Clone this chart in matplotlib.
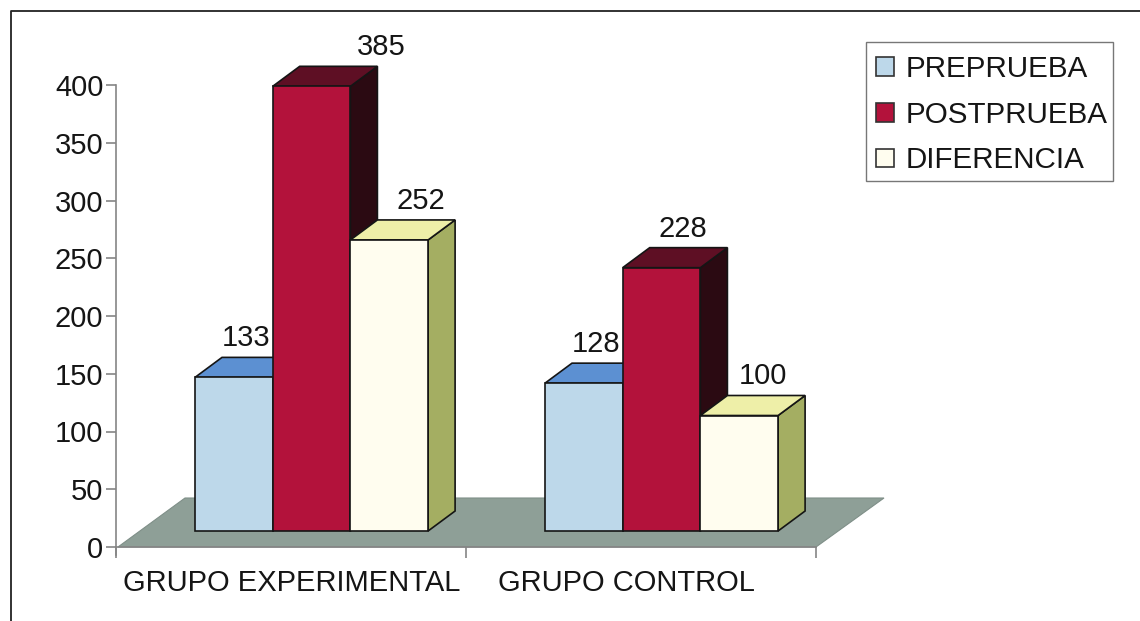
import matplotlib
matplotlib.use("Agg")
import matplotlib.pyplot as plt
from matplotlib.lines import Line2D
from matplotlib.patches import Patch, Polygon, Rectangle

plt.rcParams['font.family'] = ['Liberation Sans', 'DejaVu Sans']

# data
groups = ['GRUPO EXPERIMENTAL', 'GRUPO CONTROL']
series = ['PREPRUEBA', 'POSTPRUEBA', 'DIFERENCIA']
prep = [133, 128]
post = [385, 228]
dif = [252, 100]
y_ticks = [0, 50, 100, 150, 200, 250, 300, 350, 400]
values = {'PREPRUEBA': prep, 'POSTPRUEBA': post, 'DIFERENCIA': dif}

W, H = 1140, 621
front = {'PREPRUEBA': '#BDD8EA', 'POSTPRUEBA': '#B3123B', 'DIFERENCIA': '#FFFDEF'}
top = {'PREPRUEBA': '#5C90D2', 'POSTPRUEBA': '#5E0F24', 'DIFERENCIA': '#EEEFA8'}
side = {'PREPRUEBA': '#6F8FA8', 'POSTPRUEBA': '#2B0A12', 'DIFERENCIA': '#A4AE62'}
edge = '#151515'
axis_col = '#858585'
txt = '#151515'

fig = plt.figure(figsize=(W / 100, H / 100), dpi=100)
# only the left and top of the outer frame survive in the scan
fig.add_artist(Line2D([11 / W, 11 / W, 1], [0, 1 - 11 / H, 1 - 11 / H], transform=fig.transFigure,
                      color='#222222', lw=1.3))

# axes box: x 116..816 px, y 547..85 px
ax = fig.add_axes([116 / W, 1 - 547 / H, 700 / W, 462 / H])
ax.set_xlim(0, 2)
ax.set_ylim(0, 400)
ax.patch.set_visible(False)
px = 2 / 700      # one pixel in x units
py = 400 / 462    # one pixel in y units

# floor
ax.add_patch(Polygon([(2 * px, 0), (69 * px, 49 * py), (768 * px, 49 * py), (2, 0)],
                     closed=True, fc='#8E9F97', ec='#7F8F88', lw=0.8, clip_on=False, zorder=1))

base = 16 * py
dx, dy = 27 * px, 20 * py
bar_w = 77.7 * px
start = 79 * px

zo = 2
for g in range(len(groups)):
    for s, name in enumerate(series):
        x0 = g + start + s * bar_w
        h = values[name][g]
        x1 = x0 + bar_w
        y1 = base + h
        ax.add_patch(Polygon([(x1, base), (x1 + dx, base + dy), (x1 + dx, y1 + dy), (x1, y1)],
                             closed=True, fc=side[name], ec=edge, lw=1.2, zorder=zo, clip_on=False))
        ax.add_patch(Polygon([(x0, y1), (x0 + dx, y1 + dy), (x1 + dx, y1 + dy), (x1, y1)],
                             closed=True, fc=top[name], ec=edge, lw=1.2, zorder=zo, clip_on=False))
        ax.bar(x0, h, bar_w, bottom=base, align='edge', color=front[name], edgecolor=edge,
               linewidth=1.2, zorder=zo + 0.5, clip_on=False)
        zo += 1

# value labels, nudged by hand like in the original
label_dx = {'PREPRUEBA': [12, 12], 'POSTPRUEBA': [70, 21], 'DIFERENCIA': [32, 24]}
for g in range(len(groups)):
    for s, name in enumerate(series):
        xc = g + start + (s + 0.5) * bar_w
        ax.annotate(str(values[name][g]), (xc, base + values[name][g]),
                    xytext=(label_dx[name][g] * 0.72, 39 * 0.72), textcoords='offset points',
                    ha='center', va='center', fontsize=21, color=txt,
                    annotation_clip=False, zorder=50)

# axes
for sp in ['top', 'right']:
    ax.spines[sp].set_visible(False)
for sp in ['left', 'bottom']:
    ax.spines[sp].set_color(axis_col)
    ax.spines[sp].set_linewidth(1.2)
ax.spines['left'].set_bounds(-7, 400)
ax.set_yticks(y_ticks)
ax.set_xticks([0, 1, 2], minor=True)
ax.set_xticks([0.503, 1.457])
ax.set_xticklabels(groups)
ax.tick_params(axis='y', length=7, width=1.2, color=axis_col, labelsize=21, pad=2, labelcolor=txt)
ax.tick_params(axis='x', which='major', length=0, labelsize=21, pad=16, labelcolor=txt)
ax.tick_params(axis='x', which='minor', length=8, width=1.2, color=axis_col)

# legend, box drawn apart because its padding is not even in the original
fig.add_artist(Rectangle((866 / W, 1 - 181 / H), 247 / W, 139 / H, transform=fig.transFigure,
                         fc='white', ec='#777777', lw=1.0))
handles = [Patch(fc=front[n], ec='#333333', lw=1.2) for n in series]
leg = fig.legend(handles, series, loc='upper left', bbox_to_anchor=(876 / W, 1 - 55 / H),
                 fontsize=21.3, frameon=False,
                 handlelength=0.6, handleheight=0.6, handletextpad=0.4,
                 labelspacing=0.6, borderaxespad=0, borderpad=0, labelcolor=txt)

fig.savefig('out.png', dpi=100, facecolor='white')
